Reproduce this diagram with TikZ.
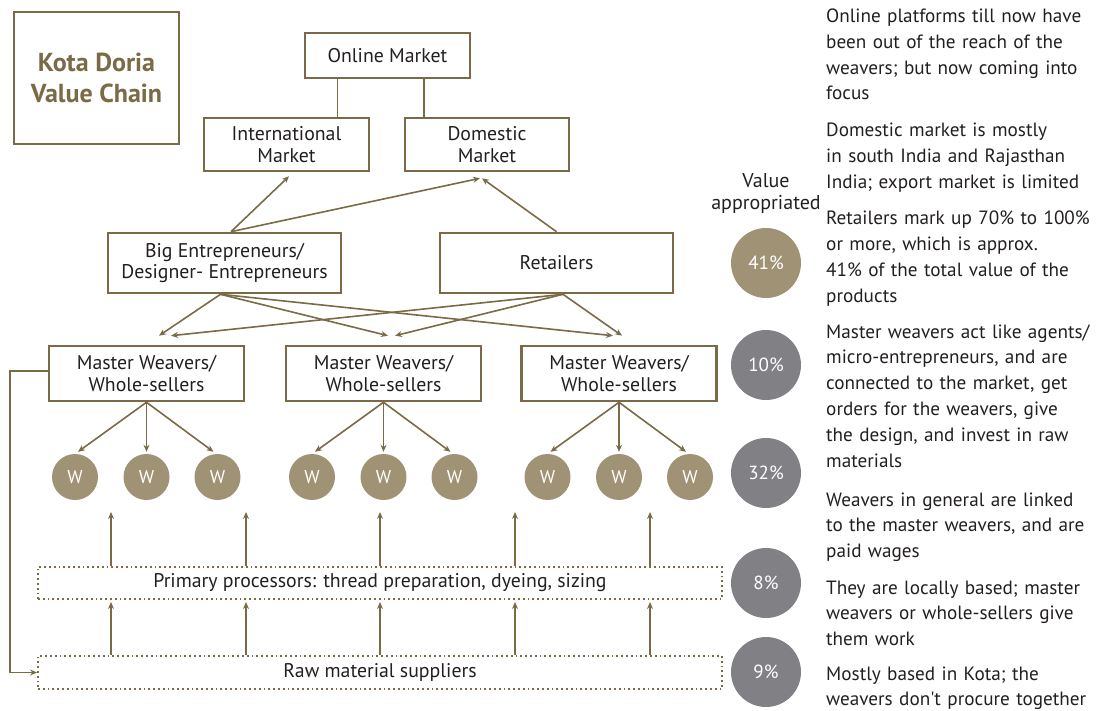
\documentclass[tikz,border=0pt]{standalone}
\usepackage{fontspec}
\setmainfont{PT Sans}[Ligatures=TeXOff]
\usetikzlibrary{arrows.meta}
\definecolor{olv}{HTML}{7A6A46}
\definecolor{tanc}{HTML}{A09274}
\definecolor{gryc}{HTML}{808085}
\definecolor{txt}{HTML}{231F20}
\begin{document}
\begin{tikzpicture}[x=1pt,y=-1pt,
 box/.style={draw=olv, line width=2.6pt, fill=white, inner sep=0pt, align=center, text=txt, font=\fontsize{19.8}{21.5}\selectfont},
 arr/.style={draw=olv, line width=1.6pt, -{Stealth[length=7pt,width=6pt]}},
 ln/.style={draw=olv, line width=1.6pt},
 wc/.style={circle, fill=tanc, minimum size=46pt, inner sep=0pt, text=white, font=\fontsize{18.5}{20}\selectfont},
 pc/.style={circle, minimum size=70pt, inner sep=0pt, text=white, font=\fontsize{19}{20}\selectfont},
 dbox/.style={draw=olv, line width=1.8pt, dash pattern=on 1.8pt off 3pt, inner sep=0pt, text=txt, font=\fontsize{19.8}{21.5}\selectfont, minimum width=684pt},
 note/.style={anchor=base west, text width=290pt, align=left, inner sep=0pt, text=txt, font=\fontsize{19.2}{25.8}\selectfont}
]
\useasboundingbox (0,0) rectangle (1108,711);

% title
\node[box, minimum width=165pt, minimum height=132pt, text=olv, font=\bfseries\fontsize{26}{31}\selectfont] (title) at (96.5,78) {Kota Doria\\Value Chain};

% markets
\node[box, minimum width=165pt, minimum height=45pt] (om) at (387.5,55.5) {Online Market};
\node[box, minimum width=165pt, minimum height=53pt] (intl) at (286.5,144.5) {International\\Market};
\node[box, minimum width=164pt, minimum height=53pt] (dom) at (487,144.5) {Domestic\\Market};
\draw[ln] ([xshift=-50pt]om.south) -- ([xshift=-50pt]om.south |- intl.north);
\draw[ln] ([xshift=36.5pt]om.south) -- ([xshift=36.5pt]om.south |- dom.north);

% entrepreneurs and retailers
\node[box, minimum width=233pt, minimum height=60pt] (be) at (224.5,263) {Big Entrepreneurs/\\Designer- Entrepreneurs};
\node[box, minimum width=233pt, minimum height=60pt] (ret) at (556.5,263) {Retailers};
\draw[arr] ([xshift=6.5pt]be.north) -- ([xshift=2.5pt,yshift=-4pt]intl.south);
\draw[arr] ([xshift=6.5pt]be.north) -- ([xshift=-7pt,yshift=-6pt]dom.south);
\draw[arr] (ret.north) -- ([xshift=-5pt,yshift=-6pt]dom.south);

% master weavers
\node[box, minimum width=195pt, minimum height=55pt] (mw1) at (146.5,373.5) {Master Weavers/\\Whole-sellers};
\node[box, minimum width=195pt, minimum height=55pt] (mw2) at (383.5,373.5) {Master Weavers/\\Whole-sellers};
\node[box, minimum width=195pt, minimum height=55pt] (mw3) at (619,373.5) {Master Weavers/\\Whole-sellers};

\draw[arr] ([xshift=-4pt]be.south) -- ([xshift=12.5pt,yshift=9pt]mw1.north);
\draw[arr] ([xshift=-4pt]be.south) -- ([xshift=4.5pt,yshift=9pt]mw2.north);
\draw[arr] ([xshift=-4pt]be.south) -- ([xshift=-6pt,yshift=9pt]mw3.north);
\draw[arr] ([xshift=6.5pt]ret.south) -- ([xshift=24.5pt,yshift=9pt]mw1.north);
\draw[arr] ([xshift=6.5pt]ret.south) -- ([xshift=11.5pt,yshift=9pt]mw2.north);
\draw[arr] ([xshift=6.5pt]ret.south) -- ([xshift=3pt,yshift=9pt]mw3.north);

% weavers
\foreach \m/\c in {1/146.5,2/383.5,3/619}{
  \node[wc] (w\m a) at (\c-71.5,477) {W};
  \node[wc] (w\m b) at (\c,477) {W};
  \node[wc] (w\m c) at (\c+71,477) {W};
  \draw[arr] (mw\m.south) -- ([xshift=3pt,yshift=2pt]w\m a.north);
  \draw[arr] (mw\m.south) -- ([yshift=2pt]w\m b.north);
  \draw[arr] (mw\m.south) -- ([xshift=-4pt,yshift=2pt]w\m c.north);
}

% processors and suppliers
\node[dbox, minimum height=32pt] (pp) at (380,583) {Primary processors: thread preparation, dyeing, sizing};
\node[dbox, minimum height=33pt] (raw) at (380,672.5) {Raw material suppliers};
\foreach \i/\x in {1/111,2/246,3/380,4/515,5/650}{
  \coordinate (u\i) at (\x,512);
  \coordinate (v\i) at (\x,602);
  \draw[arr] (pp.north -| u\i) -- (u\i);
  \draw[arr] (raw.north -| v\i) -- (v\i);
}
\draw[arr] ([yshift=2.5pt]mw1.west) -- ++(-38,0) |- (raw.west);

% value appropriated
\node[anchor=base, text width=130pt, align=center, inner sep=0pt, text=txt, font=\fontsize{20}{22}\selectfont] (va) at (766,188) {Value\\appropriated};
\node[pc, fill=tanc] (p1) at (766,263) {41\%};
\node[pc, fill=gryc] (p2) at (766,365) {10\%};
\node[pc, fill=gryc] (p3) at (766,473) {32\%};
\node[pc, fill=gryc] (p4) at (766,583) {8\%};
\node[pc, fill=gryc] (p5) at (766,672) {9\%};

% notes
\node[note] (n1) at (826,22.5) {Online platforms till now have\\been out of the reach of the\\weavers; but now coming into\\focus};
\node[note] (n2) at (826,136.5) {Domestic market is mostly\\in south India and Rajasthan\\India; export market is limited};
\node[note] (n3) at (826,225) {Retailers mark up 70\% to 100\%\\or more, which is approx.\\41\% of the total value of the\\products};
\node[note] (n4) at (826,338) {Master weavers act like agents/\\micro-entrepreneurs, and are\\connected to the market, get\\orders for the weavers, give\\the design, and invest in raw\\materials};
\node[note] (n5) at (826,506) {Weavers in general are linked\\to the master weavers, and are\\paid wages};
\node[note] (n6) at (826,594) {They are locally based; master\\weavers or whole-sellers give\\them work};
\node[note] (n7) at (826,680) {Mostly based in Kota; the\\weavers don't procure together};
\end{tikzpicture}
\end{document}
